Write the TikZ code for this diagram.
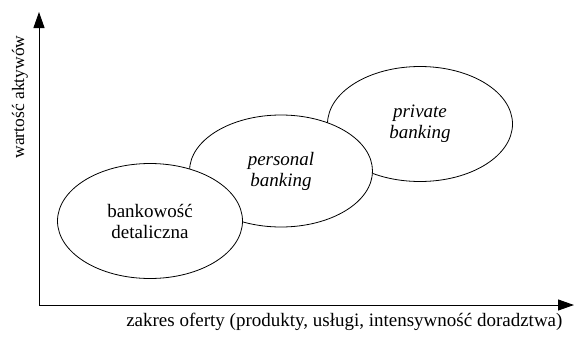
\documentclass[tikz,border=0pt]{standalone}
\usepackage{fontspec}
\setmainfont{LiberationSerif}[Extension=.ttf,UprightFont=*-Regular,ItalicFont=*-Italic,BoldFont=*-Bold]
\usetikzlibrary{shapes.geometric,arrows.meta}

\tikzset{segment/.style={ellipse,draw,thick,fill=white,align=center,inner sep=0pt,
                         minimum width=185,minimum height=115,font=\fontsize{19}{21}\selectfont},
         axis/.style={line width=1pt,-{Triangle[length=16,width=11]}}}

\begin{document}
\begin{tikzpicture}[x=1pt,y=-1pt]
                  \useasboundingbox (0,0) rectangle (574,338);
                  \coordinate (o) at (39,305);
                  \coordinate (ytop) at (39,12);
                  \coordinate (xend) at (574,305);
                  \draw[axis] (o) -- (ytop);
                  \draw[axis] (o) -- (xend);
                  \node[segment] (private) at (420,124) {\itshape private\\\itshape banking};
                  \node[segment,minimum width=183,minimum height=112] (personal) at (281,171) {\itshape personal\\\itshape banking};
                  \node[segment] (retail) at (150,221) {bankowość\\detaliczna};
                  \node[font=\fontsize{17.5}{21}\selectfont,rotate=90] (ylab) at (20,97) {wartość aktywów};
                  \node[font=\fontsize{19}{21}\selectfont,anchor=east] (xlab) at (566,322) {zakres oferty (produkty, usługi, intensywność doradztwa)};
              \end{tikzpicture}
\end{document}
